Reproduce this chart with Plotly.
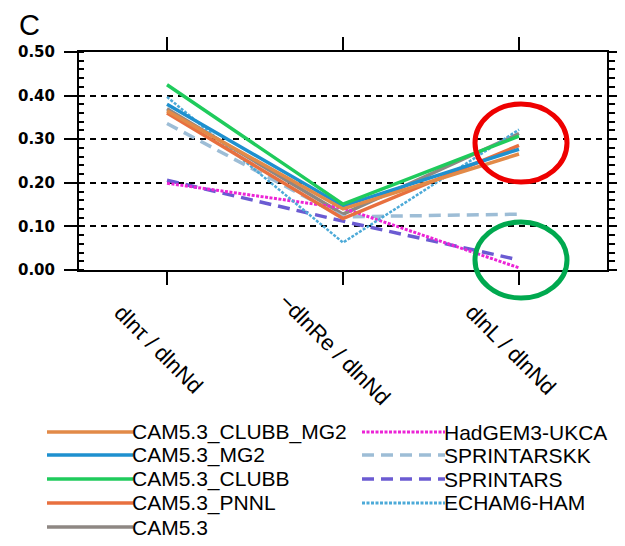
import plotly.graph_objects as go

categories = ["dlnτ / dlnNd", "−dlnRe / dlnNd", "dlnL / dlnNd"]
y_ticks = [0.0, 0.1, 0.2, 0.3, 0.4, 0.5]
y_ticklabels = ["0.00", "0.10", "0.20", "0.30", "0.40", "0.50"]

cam53_clubb_mg2 = [0.365, 0.140, 0.266]
cam53_mg2 = [0.380, 0.147, 0.277]
cam53_clubb = [0.425, 0.151, 0.307]
cam53_pnnl = [0.360, 0.118, 0.286]
cam53 = [0.370, 0.128, 0.313]
hadgem3_ukca = [0.199, 0.142, 0.005]
sprintarskk = [0.336, 0.122, 0.128]
sprintars = [0.206, 0.112, 0.023]
echam6_ham = [0.397, 0.063, 0.322]

series = [
    ("CAM5.3_CLUBB_MG2", cam53_clubb_mg2, "#E28A48", "solid", 3.5),
    ("CAM5.3_MG2", cam53_mg2, "#1E90CF", "solid", 3.5),
    ("CAM5.3_CLUBB", cam53_clubb, "#1FCB5C", "solid", 3.5),
    ("CAM5.3_PNNL", cam53_pnnl, "#E8703F", "solid", 3.5),
    ("CAM5.3", cam53, "#8E8783", "solid", 3.5),
    ("HadGEM3-UKCA", hadgem3_ukca, "#EC24D6", "3px,1.5px", 3),
    ("SPRINTARSKK", sprintarskk, "#9DBDD6", "12px,7px", 3.5),
    ("SPRINTARS", sprintars, "#6B5BD2", "12px,7px", 3.5),
    ("ECHAM6-HAM", echam6_ham, "#4DAAD8", "3px,1.5px", 2.5),
]
# draw order: CAM5.3 behind others
draw_order = [4, 6, 7, 5, 8, 3, 1, 0, 2]

x_idx = list(range(len(categories)))
fig = go.Figure()
for i in draw_order:
    name, vals, color, dash, w = series[i]
    fig.add_trace(go.Scatter(x=x_idx, y=vals, mode="lines", name=name,
                             line=dict(color=color, width=w, dash=dash),
                             showlegend=False))
# invisible trace for right axis
fig.add_trace(go.Scatter(x=[0], y=[0], yaxis="y2", mode="markers",
                         marker=dict(opacity=0), showlegend=False, hoverinfo="skip"))

# target plot area on screen (page has 8px body margin)
OFF = 8
L, R, T, B = 79, 607, 52, 270
W, H = 625 - 2 * OFF, 546 - 2 * OFF
pw, ph = R - L, B - T


def px(xp):
    return (xp - L) / pw


def py(yp):
    return (B - yp) / ph


shapes = []
annotations = []
# manual legend
rows_y = [432, 455, 479, 503, 527]
for k, (name, vals, color, dash, w) in enumerate(series):
    if k < 5:
        x0, x1, yy = 47, 133, rows_y[k]
    else:
        x0, x1, yy = 362, 445, rows_y[k - 5]
    shapes.append(dict(type="line", xref="paper", yref="paper",
                       x0=px(x0), x1=px(x1), y0=py(yy), y1=py(yy),
                       line=dict(color=color, width=3.5 if w > 3 else 3, dash=dash)))
    annotations.append(dict(xref="paper", yref="paper", x=px(x1), y=py(yy),
                            xanchor="left", yanchor="middle", text=name, showarrow=False,
                            font=dict(family="Liberation Sans, Arial", size=21, color="black"),
                            borderpad=0, xshift=-2))

# category labels rotated
for j, c in enumerate(categories):
    annotations.append(dict(xref="x", yref="paper", x=j, y=py(349), text=c,
                            textangle=45, showarrow=False, xanchor="center", yanchor="middle",
                            xshift=-8,
                            font=dict(family="Liberation Sans, Arial", size=22, color="black")))

# panel letter
annotations.append(dict(xref="paper", yref="paper", x=px(18), y=py(OFF), text="C",
                        xanchor="left", yanchor="top", showarrow=False, borderpad=0,
                        font=dict(family="Liberation Sans, Arial", size=29, color="black")))

# highlight ellipses
shapes.append(dict(type="circle", xref="paper", yref="paper",
                   x0=px(475), x1=px(567), y0=py(182), y1=py(104),
                   line=dict(color="#EE0000", width=5)))
shapes.append(dict(type="circle", xref="paper", yref="paper",
                   x0=px(475), x1=px(567), y0=py(298), y1=py(222),
                   line=dict(color="#00A94F", width=5)))

tickfont = dict(family="DejaVu Sans", size=15, color="black", weight="bold")

fig.update_layout(
    width=W, height=H, autosize=False,
    margin=dict(l=L - OFF, r=(W + OFF) - R, t=T - OFF, b=(H + OFF) - B, pad=0),
    paper_bgcolor="white", plot_bgcolor="white",
    showlegend=False,
    xaxis=dict(range=[-0.5, 2.5], tickvals=x_idx, ticktext=["", "", ""], automargin=False,
               showgrid=False, zeroline=False, showline=True, linecolor="black",
               linewidth=2, mirror="ticks", ticks="outside", ticklen=13, tickwidth=2,
               tickcolor="black"),
    yaxis=dict(range=[0, 0.5], tickvals=y_ticks, ticktext=y_ticklabels, automargin=False,
               showgrid=True, gridcolor="black", gridwidth=2, griddash="6px,5px",
               zeroline=False, showline=True, linecolor="black", linewidth=2,
               ticks="outside", ticklen=13, tickwidth=2, tickcolor="black",
               tickfont=tickfont, ticklabelstandoff=6,
               minor=dict(ticks="inside", dtick=0.02, ticklen=5, tickwidth=1.5,
                          tickcolor="black", showgrid=False)),
    yaxis2=dict(range=[0, 0.5], overlaying="y", side="right", anchor="x", automargin=False,
                tickvals=y_ticks, showticklabels=False, showgrid=False, zeroline=False,
                showline=True, linecolor="black", linewidth=2,
                ticks="outside", ticklen=13, tickwidth=2, tickcolor="black",
                minor=dict(ticks="outside", dtick=0.02, ticklen=6, tickwidth=1.5,
                           tickcolor="black", showgrid=False)),
    shapes=shapes,
    annotations=annotations,
)

fig.write_html("out.html", config={"displayModeBar": False})
